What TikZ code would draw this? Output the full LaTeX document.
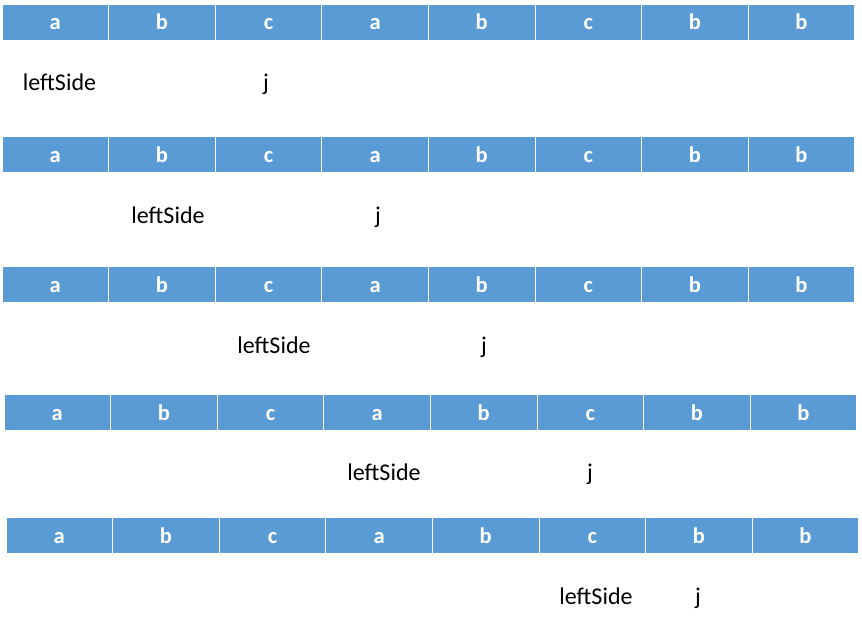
\documentclass[tikz,border=0pt]{standalone}
\usepackage{fontspec}
\setmainfont{Carlito}
\usetikzlibrary{positioning}
\definecolor{cellblue}{HTML}{5B9BD5}

\begin{document}
\begin{tikzpicture}[x=1pt, y=-1pt,
  cell/.style={rectangle, draw=white, line width=0.8pt, fill=cellblue,
    minimum width=106.6pt, minimum height=36pt, inner sep=0pt, text=white,
    font=\fontsize{22.5}{26}\selectfont\bfseries, text height=16pt, text depth=0pt},
  lbl/.style={anchor=base, inner sep=0pt, font=\fontsize{24}{28}\selectfont}]
\useasboundingbox (0,0) rectangle (862,626);

% Rows of cells
\foreach \r/\x/\y in {1/2/22, 2/2/154.5, 3/2/284.5, 4/4/412, 5/6/535.5} {
  \foreach \t [count=\i] in {a,b,c,a,b,c,b,b} {
    \node[cell] (r\r c\i) at ({\x+(\i-0.5)*106.6}, \y) {\t};
  }
}

% Pointers
% row 1
\node[lbl] (left1) at (59.5, 91) {leftSide};
\node[lbl] (j1) at (266, 91) {j};

% row 2
\node[lbl] (left2) at (168, 223) {leftSide};
\node[lbl] (j2) at (378, 223) {j};

% row 3
\node[lbl] (left3) at (274, 353.5) {leftSide};
\node[lbl] (j3) at (484, 353.5) {j};

% row 4
\node[lbl] (left4) at (384, 480) {leftSide};
\node[lbl] (j4) at (590, 480) {j};

% row 5
\node[lbl] (left5) at (596, 604) {leftSide};
\node[lbl] (j5) at (698, 604) {j};

\end{tikzpicture}
\end{document}
